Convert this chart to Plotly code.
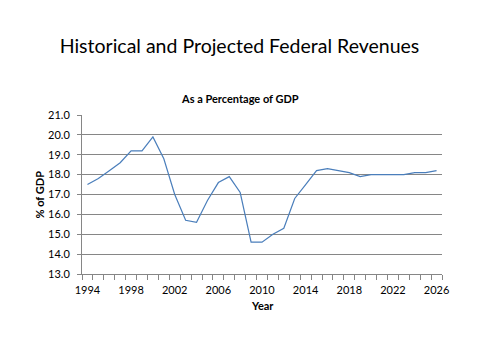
import plotly.graph_objects as go

years = list(range(1994, 2027))
revenue_pct_gdp = [17.5, 17.8, 18.2, 18.6, 19.2, 19.2, 19.9, 18.8, 17.0, 15.7,
                   15.6, 16.7, 17.6, 17.9, 17.1, 14.6, 14.6, 15.0, 15.3, 16.8,
                   17.5, 18.2, 18.3, 18.2, 18.1, 17.9, 18.0, 18.0, 18.0, 18.0,
                   18.1, 18.1, 18.2]
x_tick_labels = [1994, 1998, 2002, 2006, 2010, 2014, 2018, 2022, 2026]

FONT = "Lato"
# page body has an 8px default margin; compensate
W, H = 472, 352
fig = go.Figure()
fig.add_trace(go.Scatter(x=years, y=revenue_pct_gdp, mode="lines",
                         line=dict(color="#4A7EBB", width=1.2),
                         hoverinfo="x+y", showlegend=False))

fig.update_layout(
    width=W, height=H,
    margin=dict(l=74, r=38, t=107, b=86),
    paper_bgcolor="white", plot_bgcolor="white",
    font=dict(family=FONT, size=11, color="black"),
    title=dict(text="Historical and Projected Federal Revenues",
               x=231.5 / W, xanchor="center", xref="container",
               y=1 - 38 / H, yanchor="middle", yref="container",
               font=dict(family=FONT, size=19.5, color="black")),
    showlegend=False,
)
fig.update_xaxes(
    range=[1993.5, 2026.5],
    tickmode="array", tickvals=x_tick_labels,
    ticktext=[str(v) for v in x_tick_labels],
    ticks="", showgrid=False, zeroline=False,
    showline=True, linecolor="#868686", linewidth=1,
    minor=dict(tickmode="linear", tick0=1993.5, dtick=1, ticks="outside",
               ticklen=5, tickcolor="#868686", showgrid=False),
    ticklabelstandoff=6,
    tickfont=dict(size=11),
)
fig.update_yaxes(
    range=[13, 21], dtick=1, tick0=13, tickformat=".1f",
    showgrid=True, gridcolor="#868686", gridwidth=1,
    zeroline=False, showline=True, linecolor="#868686", linewidth=1,
    ticks="outside", ticklen=4, tickcolor="#868686",
    ticklabelstandoff=5,
    tickfont=dict(size=11),
)
fig.add_annotation(text="<b>As a Percentage of GDP</b>", xref="paper", yref="paper",
                   x=(240 - 82) / 360, y=(274 - 98) / 159, showarrow=False,
                   xanchor="center", yanchor="middle", font=dict(size=11))
fig.add_annotation(text="<b>Year</b>", xref="paper", yref="paper",
                   x=0.5, y=(274 - 305) / 159, showarrow=False,
                   xanchor="center", yanchor="middle", font=dict(size=11))
fig.add_annotation(text="<b>% of GDP</b>", xref="paper", yref="paper",
                   x=(39 - 82) / 360, y=0.5, showarrow=False, textangle=-90,
                   xanchor="center", yanchor="middle", font=dict(size=11))

fig.write_html("out.html")
